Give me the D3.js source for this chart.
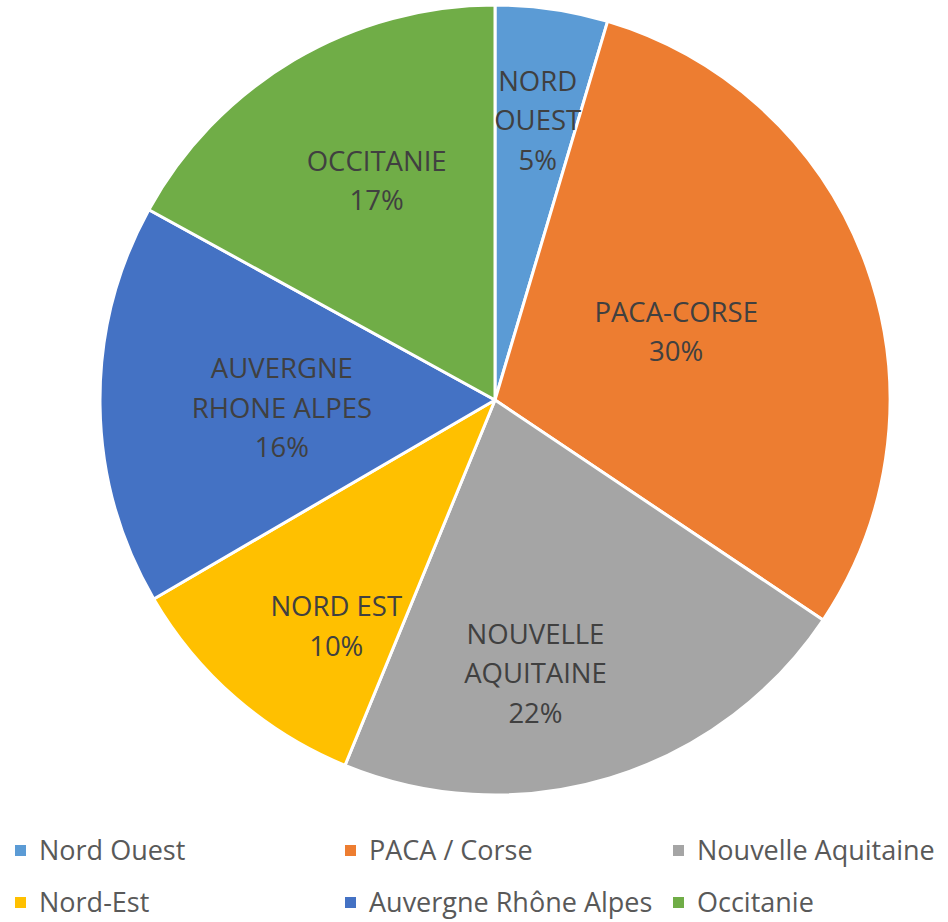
<!DOCTYPE html>
<html>
<head>
<meta charset="utf-8">
<script src="https://cdn.jsdelivr.net/npm/d3@7"></script>
<style>
	body { margin: 0; background: #fff; }
	svg text { font-family: "Open Sans", Lato, sans-serif; }
</style>
</head>
<body>
<div id="chart"></div>
<script>
const dest		= '#chart';

// data
const categories	= ['Nord Ouest', 'PACA / Corse', 'Nouvelle Aquitaine', 'Nord-Est', 'Auvergne Rhône Alpes', 'Occitanie'];
const sliceNames	= ['NORD\nOUEST', 'PACA-CORSE', 'NOUVELLE\nAQUITAINE', 'NORD EST', 'AUVERGNE\nRHONE ALPES', 'OCCITANIE'];
const values		= [4.6, 29.8, 21.8, 10.4, 16.4, 17.0];
const colors		= ['#5b9bd5', '#ed7d31', '#a5a5a5', '#ffc000', '#4472c4', '#70ad47'];

// label placement (radius fraction, angle nudge in degrees)
const labelRadius	= [0.716, 0.49, 0.70, 0.70, 0.54, 0.63];
const labelNudge	= [0.4, -0.8, 8.5, -6, -1.5, 2.2];

const width		= 948;
const height	= 922;
const cx		= 495;
const cy		= 400;
const radius	= 395;
const lineH		= 39.5;

let svg = d3.select(dest).append('svg')
	.attr('width', width)
	.attr('height', height);

let pie	= d3.pie().sort(null).value((d) => d)(values);
let arc	= d3.arc().innerRadius(0).outerRadius(radius);

let g = svg.append('g').attr('transform', 'translate(' + cx + ',' + cy + ')');

g.selectAll('path')
	.data(pie)
	.enter().append('path')
		.attr('d', arc)
		.attr('fill', (d, i) => colors[i])
		.attr('stroke', '#fff')
		.attr('stroke-width', 3)
		.attr('stroke-linejoin', 'round');

let total = d3.sum(values);

g.selectAll('.slice-label')
	.data(pie)
	.enter().append('text')
		.attr('class', 'slice-label')
		.attr('text-anchor', 'middle')
		.attr('fill', '#404040')
		.style('font-size', '27.5px')
		.each(function (d, i) {
			let lines	= sliceNames[i].split('\n').concat([Math.round(d.value / total * 100) + '%']);
			let a		= (d.startAngle + d.endAngle) / 2 + labelNudge[i] * Math.PI / 180;
			let r		= labelRadius[i] * radius;
			let x		= Math.sin(a) * r;
			let y		= -Math.cos(a) * r;
			let y0		= y - (lines.length - 1) * lineH / 2;
			d3.select(this).selectAll('tspan')
				.data(lines)
				.enter().append('tspan')
					.attr('x', x)
					.attr('y', (o, j) => y0 + j * lineH)
					.attr('dy', '0.35em')
					.text((o) => o);
		});

// legend
let legendX	= [15, 345, 673];
let legendY	= [851, 903];

let legend = svg.append('g')
	.selectAll('g')
	.data(categories)
	.enter().append('g')
		.attr('transform', (o, i) => 'translate(' + legendX[i % 3] + ',' + legendY[Math.floor(i / 3)] + ')');

legend.append('rect')
	.attr('x', 0)
	.attr('y', -6)
	.attr('width', 11)
	.attr('height', 11)
	.attr('fill', (o, i) => colors[i]);

legend.append('text')
	.attr('x', 24)
	.attr('dy', '0.35em')
	.attr('fill', '#595959')
	.style('font-size', '27px')
	.text((o) => o);
</script>
</body>
</html>
